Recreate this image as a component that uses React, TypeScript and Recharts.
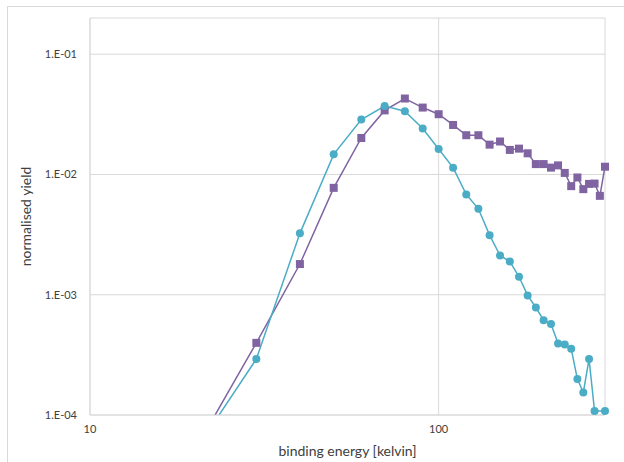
import React from "react";
import { LineChart, Line, XAxis, YAxis, CartesianGrid, Label } from "recharts";

// binding energy in kelvin, shared by both curves
const energies = [20, 30, 40, 50, 60, 70, 80, 90, 100, 110, 120, 130, 140, 150, 160, 170, 180, 190, 200, 210, 220, 230, 240, 250, 260, 270, 280, 290, 300];

// purple squares
const yieldSquares = [5.1e-5, 3.98e-4, 1.8e-3, 7.74e-3, 2.01e-2, 3.41e-2, 4.28e-2, 3.6e-2, 3.17e-2, 2.58e-2, 2.12e-2, 2.12e-2, 1.77e-2, 1.88e-2, 1.6e-2, 1.64e-2, 1.5e-2, 1.22e-2, 1.22e-2, 1.14e-2, 1.19e-2, 1.03e-2, 8.0e-3, 9.44e-3, 7.55e-3, 8.35e-3, 8.4e-3, 6.64e-3, 1.16e-2];

// cyan circles (no value at 290)
const yieldCircles = [5.0e-5, 2.92e-4, 3.24e-3, 1.47e-2, 2.86e-2, 3.71e-2, 3.36e-2, 2.41e-2, 1.63e-2, 1.14e-2, 6.83e-3, 5.18e-3, 3.13e-3, 2.12e-3, 1.89e-3, 1.41e-3, 9.87e-4, 7.83e-4, 6.15e-4, 5.7e-4, 3.94e-4, 3.86e-4, 3.55e-4, 1.99e-4, 1.54e-4, 2.92e-4, 1.08e-4, null, 1.08e-4];

const xTicks = [10, 100];
const yTicks = [1e-4, 1e-3, 1e-2, 1e-1];
const Y_MIN = 1e-4;
const Y_MAX = 0.2;

// markers only where the point lies inside the plotted range
const inRange = (v: number | null) => (v != null && v >= Y_MIN && v <= Y_MAX ? v : null);

const data = energies.map((e, i) => ({
  e,
  sq: yieldSquares[i],
  ci: yieldCircles[i],
  sqMark: inRange(yieldSquares[i]),
  ciMark: inRange(yieldCircles[i]),
}));

const PURPLE = "#8064a2";
const CYAN = "#4bacc6";
const GRID = "#d9d9d9";
const TEXT = "#404040";
const FONT = "Lato, 'Open Sans', sans-serif";

const sciTick = (v: number) => {
  const p = Math.round(Math.log10(v));
  return `1.E${p < 0 ? "-" : "+"}${String(Math.abs(p)).padStart(2, "0")}`;
};

function SquareDot(props: any) {
  const { cx, cy, index } = props;
  if (cx == null || cy == null) return <g key={`s${index}`} />;
  return <rect key={`s${index}`} x={cx - 4} y={cy - 4} width={8} height={8} fill={PURPLE} />;
}

function CircleDot(props: any) {
  const { cx, cy, index } = props;
  if (cx == null || cy == null) return <g key={`c${index}`} />;
  return <circle key={`c${index}`} cx={cx} cy={cy} r={4} fill={CYAN} />;
}

export default function App() {
  return (
    <div style={{ position: "fixed", left: 0, top: 0, width: 624, height: 462, background: "#fff", fontFamily: FONT }}>
      {/* chart frame: only top and left edges fall inside the page */}
      <div style={{ position: "absolute", left: 7, top: 6, right: 0, bottom: 0, borderTop: `1px solid ${GRID}`, borderLeft: `1px solid ${GRID}` }} />
      <LineChart width={624} height={462} data={data} margin={{ top: 18, right: 19, left: 30, bottom: 17 }} style={{ position: "absolute", left: 0, top: 0 }}>
        <CartesianGrid stroke={GRID} strokeWidth={1} />
        <XAxis dataKey="e" type="number" scale="log" domain={[10, 300]} ticks={xTicks}
          axisLine={{ stroke: GRID }} tickLine={false} tickMargin={4} height={30}
          tick={{ fill: TEXT, fontSize: 11, fontFamily: FONT }}>
          <Label value="binding energy [kelvin]" position="bottom" offset={1} style={{ fill: TEXT, fontSize: 14, fontFamily: FONT }} />
        </XAxis>
        <YAxis type="number" scale="log" domain={[Y_MIN, Y_MAX]} ticks={yTicks} allowDataOverflow tickFormatter={sciTick}
          axisLine={{ stroke: GRID }} tickLine={false} tickMargin={7} width={60}
          tick={{ fill: TEXT, fontSize: 11, fontFamily: FONT }}>
          <Label value="normalised yield" angle={-90} position="center" dx={-34} style={{ fill: TEXT, fontSize: 14, fontFamily: FONT, textAnchor: "middle" }} />
        </YAxis>
        {/* same scale, no overflow clipping, so markers at the edge stay whole */}
        <YAxis yAxisId="marks" type="number" scale="log" domain={[Y_MIN, Y_MAX]} hide />
        <Line dataKey="sq" stroke={PURPLE} strokeWidth={1.5} dot={false} activeDot={false} isAnimationActive={false} connectNulls />
        <Line dataKey="sqMark" yAxisId="marks" stroke="none" dot={SquareDot} activeDot={false} isAnimationActive={false} />
        <Line dataKey="ci" stroke={CYAN} strokeWidth={1.5} dot={false} activeDot={false} isAnimationActive={false} connectNulls />
        <Line dataKey="ciMark" yAxisId="marks" stroke="none" dot={CircleDot} activeDot={false} isAnimationActive={false} />
      </LineChart>
    </div>
  );
}
